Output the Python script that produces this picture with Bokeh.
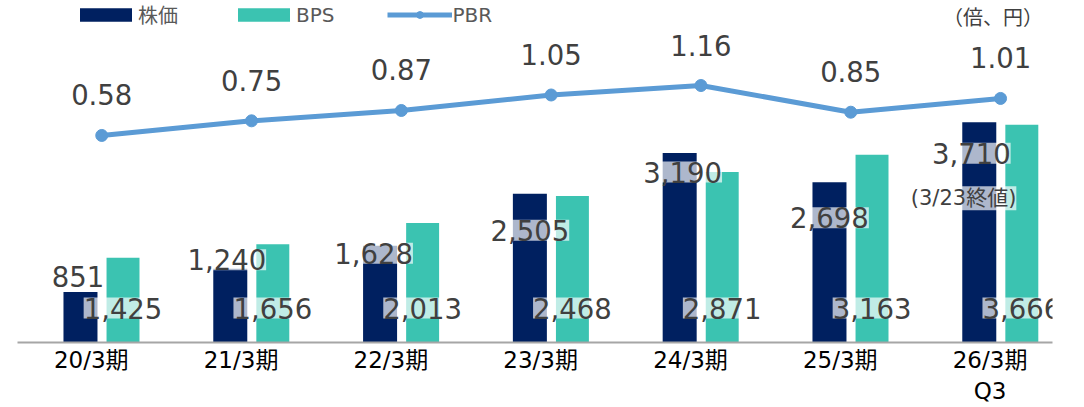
from bokeh.plotting import figure
from bokeh.models import (ColumnDataSource, Range1d, LinearAxis, FixedTicker,
                          LabelSet, Label, Legend, LegendItem)
from bokeh.transform import dodge
from bokeh.core.properties import value
from bokeh.embed import file_html
from bokeh.resources import INLINE

# ---- data ----
categories = ["20/3期", "21/3期", "22/3期", "23/3期", "24/3期", "25/3期", "26/3期\nQ3"]
price = [851, 1240, 1628, 2505, 3190, 2698, 3710]          # 株価
bps = [1425, 1656, 2013, 2468, 2871, 3163, 3666]            # BPS
pbr = [0.58, 0.75, 0.87, 1.05, 1.16, 0.85, 1.01]            # PBR
price_note = "(3/23終値)"
unit_note = "（倍、円）"

# ---- layout nudges for the 株価 labels (pixels) ----
price_label_dx = [-2.5, -3.5, -6.5, 0, 3, 0, -8]
price_label_dy = [4.5, -1.5, -18, -47, -29.5, -46, -41.5]

FONT = "DejaVu Sans, Noto Sans CJK JP"
NAVY = "#002060"
TEAL = "#3BC3B1"
BLUE = "#5B9BD5"
LABEL_C = "#404040"

xs = list(range(len(categories)))
src = ColumnDataSource(dict(
    x=xs, price=price, bps=bps, pbr=pbr,
    price_txt=[f"{v:,}" for v in price],
    bps_txt=[f"{v:,}" for v in bps],
    pbr_txt=[f"{v:.2f}" for v in pbr],
    pdx=price_label_dx, pdy=price_label_dy,
))

x0, x1 = -0.5624, 6.3468
p = figure(width=1084, height=407, output_backend="svg", toolbar_location=None,
           x_range=Range1d(x0, x1), y_range=Range1d(0, 5758),
           x_axis_location=None, y_axis_location=None,
           min_border_left=17, min_border_right=32, min_border_top=0,
           min_border_bottom=65)
p.extra_y_ranges = {"pbr": Range1d(-1.8246, 2.1475)}
p.extra_x_ranges = {"ax": Range1d(x0 + 0.07, x1 + 0.07)}
p.outline_line_color = None
p.background_fill_color = "white"
p.border_fill_color = "white"
for g in p.grid:
    g.visible = False

r_price = p.vbar(x=dodge("x", -0.142), top="price", width=0.227, source=src,
                 fill_color=NAVY, line_color=None)
r_bps = p.vbar(x=dodge("x", 0.142), top="bps", width=0.22, source=src,
               fill_color=TEAL, line_color=None)
r_line = p.line("x", "pbr", source=src, y_range_name="pbr", line_width=5,
                line_color=BLUE)
r_dots = p.scatter("x", "pbr", source=src, y_range_name="pbr", size=12,
                   fill_color=BLUE, line_color=BLUE)

ax = LinearAxis(x_range_name="ax", ticker=FixedTicker(ticks=xs),
                major_label_overrides={i: c for i, c in enumerate(categories)})
ax.axis_line_color = "#A6A6A6"
ax.axis_line_width = 2
ax.major_tick_line_color = None
ax.minor_tick_line_color = None
ax.major_tick_in = 0
ax.major_tick_out = 0
ax.major_label_standoff = 4
ax.major_label_text_font = FONT
ax.major_label_text_font_size = "23px"
ax.major_label_text_color = "#000000"
p.add_layout(ax, "below")

common = dict(source=src, text_align="center", text_baseline="alphabetic",
              text_font=value(FONT), text_font_size="27.5px", text_color=LABEL_C)
halo = dict(background_fill_color="white", background_fill_alpha=0.68)

p.add_layout(LabelSet(x=dodge("x", -0.142), y="price", text="price_txt",
                      x_offset="pdx", y_offset="pdy", **halo, **common))
p.add_layout(LabelSet(x=dodge("x", 0.142), y=0, text="bps_txt",
                      y_offset=24, **halo, **common))
p.add_layout(LabelSet(x="x", y="pbr", text="pbr_txt", y_range_name="pbr",
                      y_offset=30, **common))

p.add_layout(Label(x=len(categories) - 1, y=price[-1], x_offset=-37, y_offset=-76,
                   text=price_note, text_align="center", text_baseline="middle",
                   text_font=FONT, text_font_size="21px", text_color=LABEL_C,
                   **halo))
p.add_layout(Label(x=975.5, y=324.5, x_units="screen", y_units="screen",
                   text=unit_note, text_align="center", text_baseline="middle",
                   text_font=FONT, text_font_size="20px", text_color=LABEL_C))

legend = Legend(items=[LegendItem(label="株価", renderers=[r_price]),
                       LegendItem(label="BPS", renderers=[r_bps]),
                       LegendItem(label="PBR", renderers=[r_line, r_dots])],
                orientation="horizontal", location=(56, 313),
                glyph_width=65, glyph_height=17, label_height=26,
                label_standoff=0, spacing=53,
                padding=0, margin=0, border_line_alpha=0,
                background_fill_alpha=0, label_text_font=FONT,
                label_text_font_size="20px", label_text_color="#595959")
p.add_layout(legend)

open("out.html", "w").write(file_html(p, INLINE, "chart"))
